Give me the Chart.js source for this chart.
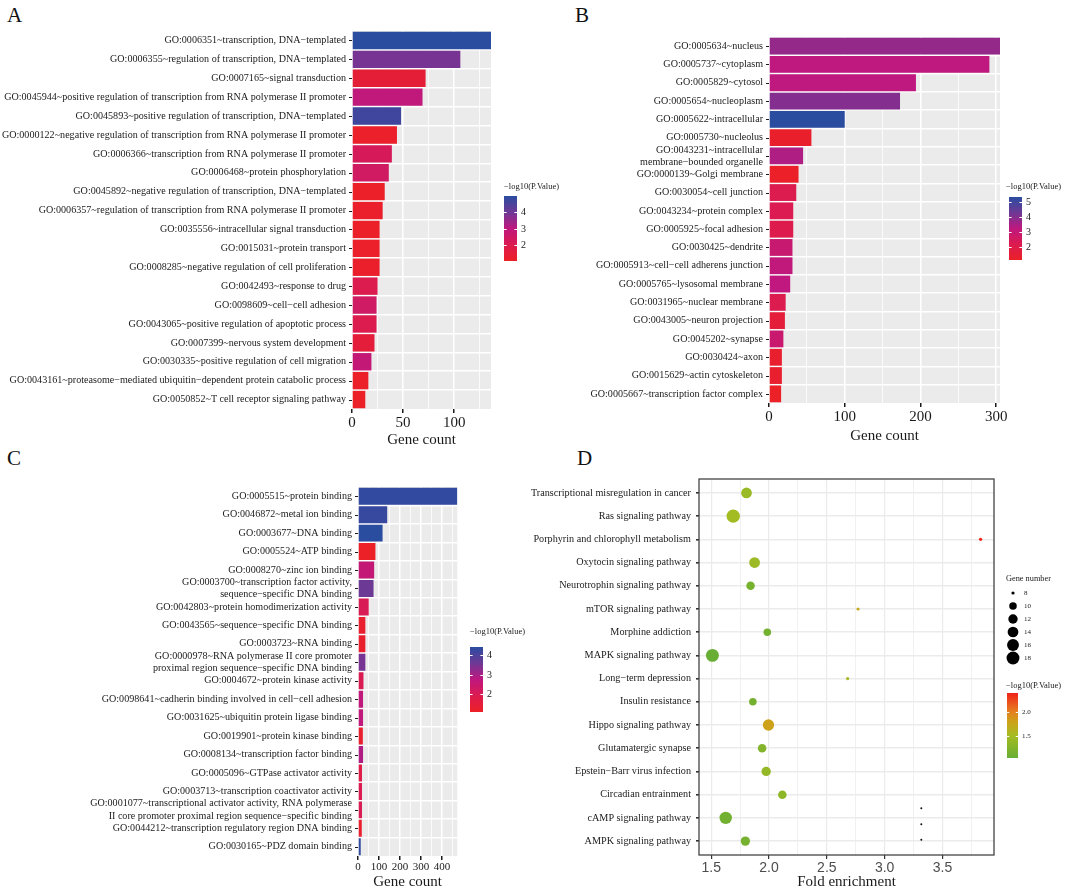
<!DOCTYPE html>
<html lang="en">
<head>
<meta charset="UTF-8">
<title>GO and KEGG enrichment</title>
<script src="https://cdn.jsdelivr.net/npm/chart.js"></script>
<style>
  body { margin: 0; background: #fff; width: 1065px; height: 892px; position: relative; overflow: hidden; font-family: "Liberation Serif", serif; }
  canvas { position: absolute; }
  .tag { position: absolute; font-size: 21px; line-height: 1; color: #111; }
</style>
</head>
<body>
<div class="tag" style="left:7px;top:5px">A</div>
<div class="tag" style="left:575px;top:5px">B</div>
<div class="tag" style="left:7px;top:448px">C</div>
<div class="tag" style="left:577px;top:448px">D</div>

<canvas id="chartA" width="575" height="452" style="left:0;top:0"></canvas>
<canvas id="chartB" width="545" height="452" style="left:520px;top:0"></canvas>
<canvas id="chartC" width="545" height="442" style="left:0;top:450px"></canvas>
<canvas id="chartD" width="565" height="442" style="left:500px;top:450px"></canvas>

<script>
// ---- data ----
const labelsA = [
  'GO:0006351~transcription, DNA\u2212templated',
  'GO:0006355~regulation of transcription, DNA\u2212templated',
  'GO:0007165~signal transduction',
  'GO:0045944~positive regulation of transcription from RNA polymerase II promoter',
  'GO:0045893~positive regulation of transcription, DNA\u2212templated',
  'GO:0000122~negative regulation of transcription from RNA polymerase II promoter',
  'GO:0006366~transcription from RNA polymerase II promoter',
  'GO:0006468~protein phosphorylation',
  'GO:0045892~negative regulation of transcription, DNA\u2212templated',
  'GO:0006357~regulation of transcription from RNA polymerase II promoter',
  'GO:0035556~intracellular signal transduction',
  'GO:0015031~protein transport',
  'GO:0008285~negative regulation of cell proliferation',
  'GO:0042493~response to drug',
  'GO:0098609~cell\u2212cell adhesion',
  'GO:0043065~positive regulation of apoptotic process',
  'GO:0007399~nervous system development',
  'GO:0030335~positive regulation of cell migration',
  'GO:0043161~proteasome\u2212mediated ubiquitin\u2212dependent protein catabolic process',
  'GO:0050852~T cell receptor signaling pathway'
];
const countsA = [136, 106, 72, 69, 48, 44, 39, 36, 32, 30, 27, 27, 27, 25, 24, 24, 22, 19, 16, 13];
const logpA = [4.95, 3.86, 1.45, 2.92, 4.64, 1.13, 2.22, 2.42, 1.1, 1.15, 1.1, 1.12, 1.15, 2.03, 2.45, 2.0, 1.52, 2.84, 1.1, 1.05];

const labelsB = [
  'GO:0005634~nucleus',
  'GO:0005737~cytoplasm',
  'GO:0005829~cytosol',
  'GO:0005654~nucleoplasm',
  'GO:0005622~intracellular',
  'GO:0005730~nucleolus',
  ['GO:0043231~intracellular', 'membrane\u2212bounded organelle'],
  'GO:0000139~Golgi membrane',
  'GO:0030054~cell junction',
  'GO:0043234~protein complex',
  'GO:0005925~focal adhesion',
  'GO:0030425~dendrite',
  'GO:0005913~cell\u2212cell adherens junction',
  'GO:0005765~lysosomal membrane',
  'GO:0031965~nuclear membrane',
  'GO:0043005~neuron projection',
  'GO:0045202~synapse',
  'GO:0030424~axon',
  'GO:0015629~actin cytoskeleton',
  'GO:0005667~transcription factor complex'
];
const countsB = [305, 291, 194, 173, 100, 56, 45, 39, 36, 32, 32, 31, 31, 28, 22, 21, 19, 17, 17, 16];
const logpB = [3.78, 3.22, 3.22, 4.0, 5.35, 1.23, 3.44, 1.12, 2.16, 2.2, 2.08, 2.9, 3.14, 3.2, 2.16, 1.6, 2.88, 1.3, 1.3, 1.1];

const labelsC = [
  'GO:0005515~protein binding',
  'GO:0046872~metal ion binding',
  'GO:0003677~DNA binding',
  'GO:0005524~ATP binding',
  'GO:0008270~zinc ion binding',
  ['GO:0003700~transcription factor activity,', 'sequence\u2212specific DNA binding'],
  'GO:0042803~protein homodimerization activity',
  'GO:0043565~sequence\u2212specific DNA binding',
  'GO:0003723~RNA binding',
  ['GO:0000978~RNA polymerase II core promoter', 'proximal region sequence\u2212specific DNA binding'],
  'GO:0004672~protein kinase activity',
  'GO:0098641~cadherin binding involved in cell\u2212cell adhesion',
  'GO:0031625~ubiquitin protein ligase binding',
  'GO:0019901~protein kinase binding',
  'GO:0008134~transcription factor binding',
  'GO:0005096~GTPase activator activity',
  'GO:0003713~transcription coactivator activity',
  ['GO:0001077~transcriptional activator activity, RNA polymerase', 'II core promoter proximal region sequence\u2212specific binding'],
  'GO:0044212~transcription regulatory region DNA binding',
  'GO:0030165~PDZ domain binding'
];
const countsC = [473, 139, 117, 83, 77, 74, 51, 35, 35, 35, 26, 24, 24, 23, 24, 19, 19, 19, 18, 13];
const logpC = [4.3, 4.25, 4.4, 1.1, 2.62, 3.6, 2.02, 1.27, 1.25, 3.48, 1.98, 2.68, 2.68, 1.25, 2.9, 1.76, 1.95, 2.0, 1.25, 4.32];

const labelsD = [
  'Transcriptional misregulation in cancer',
  'Ras signaling pathway',
  'Porphyrin and chlorophyll metabolism',
  'Oxytocin signaling pathway',
  'Neurotrophin signaling pathway',
  'mTOR signaling pathway',
  'Morphine addiction',
  'MAPK signaling pathway',
  'Long\u2212term depression',
  'Insulin resistance',
  'Hippo signaling pathway',
  'Glutamatergic synapse',
  'Epstein\u2212Barr virus infection',
  'Circadian entrainment',
  'cAMP signaling pathway',
  'AMPK signaling pathway'
];
const foldD = [1.805, 1.69, 3.83, 1.875, 1.84, 2.77, 1.985, 1.51, 2.68, 1.86, 1.995, 1.94, 1.975, 2.115, 1.625, 1.795];
const geneD = [14, 19, 8, 14, 11, 8, 10, 18, 8, 10, 15, 11, 12, 11, 17, 12];
const logpD = [1.42, 1.49, 2.41, 1.43, 1.15, 1.72, 1.12, 1.03, 1.53, 1.13, 1.8, 1.24, 1.38, 1.33, 1.1, 1.14];
// three stray black specks inside panel D
const speckX = [3.317, 3.317, 3.317];
const speckY = [13.59, 14.28, 14.94];
const sizeBreaks = [8, 10, 12, 14, 16, 18];

// ---- helpers ----
const SERIF = '"Liberation Serif", "Times New Roman", serif';
const SANS = '"Liberation Sans", Arial, sans-serif';
const INK = '#1a1a1a';
const CLEAR = 'rgba(0,0,0,0)';

const redBlue = [[0, '#EC2027'], [0.25, '#DC1B4F'], [0.5, '#BF187F'], [0.75, '#6E3895'], [1, '#2A4DA0']];
const greenRed = [[0, '#68AE34'], [0.34, '#A4BC22'], [0.55, '#CCA41A'], [0.72, '#E67E1E'], [1, '#F0221A']];

function hex(h) { const n = parseInt(h.slice(1), 16); return [(n >> 16) & 255, (n >> 8) & 255, n & 255]; }
function ramp(stops, t) {
  t = Math.max(0, Math.min(1, t));
  let i = 0;
  while (i < stops.length - 2 && t > stops[i + 1][0]) i++;
  const [t0, c0] = stops[i], [t1, c1] = stops[i + 1];
  const f = (t - t0) / (t1 - t0), a = hex(c0), b = hex(c1);
  return 'rgb(' + a.map((v, k) => Math.round(v + (b[k] - v) * f)).join(',') + ')';
}
function colourScale(stops, values) {
  const lo = Math.min(...values), hi = Math.max(...values);
  const f = v => ramp(stops, (v - lo) / (hi - lo));
  f.domain = [lo, hi];
  return f;
}

function drawColorbar(ctx, L, col, step, fmt) {
  const [lo, hi] = col.domain, span = L.y1 - L.y0;
  ctx.save();
  ctx.fillStyle = INK;
  ctx.font = L.titleSize + 'px ' + SERIF;
  ctx.textBaseline = 'middle';
  ctx.textAlign = 'left';
  ctx.fillText('\u2212log10(P.Value)', L.tx, L.ty);
  for (let i = 0; i < span; i++) {
    ctx.fillStyle = col(hi - (i + 0.5) / span * (hi - lo));
    ctx.fillRect(L.x, L.y0 + i, L.w, 1);
  }
  ctx.font = L.labelSize + 'px ' + SERIF;
  for (let b = Math.ceil(lo / step) * step; b <= hi; b += step) {
    const y = Math.round(L.y1 - (b - lo) / (hi - lo) * span) + 0.5;
    ctx.strokeStyle = '#fff';
    ctx.lineWidth = 1;
    ctx.beginPath();
    ctx.moveTo(L.x, y); ctx.lineTo(L.x + L.w / 5, y);
    ctx.moveTo(L.x + L.w * 4 / 5, y); ctx.lineTo(L.x + L.w, y);
    ctx.stroke();
    ctx.fillStyle = INK;
    ctx.fillText(fmt(b), L.x + L.w + 4, y);
  }
  ctx.restore();
}

function barPanel(id, labels, counts, logp, opt) {
  const col = colourScale(redBlue, logp);
  const xmax = Math.max(...counts);
  const isMajor = v => v % opt.major === 0;
  const panel = {
    id: 'panel' + id,
    beforeDraw(chart) {
      const a = chart.chartArea, c = chart.ctx;
      c.save();
      c.fillStyle = '#EBEBEB';
      c.fillRect(a.left, a.top, a.right - a.left, a.bottom - a.top);
      c.restore();
    },
    afterDraw(chart) {
      const a = chart.chartArea, c = chart.ctx, ys = chart.scales.y;
      c.save();
      c.strokeStyle = INK;
      c.lineWidth = 1;
      c.beginPath();
      labels.forEach((_, i) => {
        const y = Math.round(ys.getPixelForValue(i)) + 0.5;
        c.moveTo(a.left - 3, y); c.lineTo(a.left, y);
      });
      c.stroke();
      c.restore();
      drawColorbar(c, opt.legend, col, 1, v => String(v));
    }
  };
  new Chart(document.getElementById(id), {
    type: 'bar',
    data: {
      labels: labels,
      datasets: [{ data: counts, backgroundColor: logp.map(col), barPercentage: 0.92, categoryPercentage: 1 }]
    },
    options: {
      indexAxis: 'y',
      responsive: false,
      animation: false,
      events: [],
      layout: { padding: { top: opt.top, right: opt.right, left: 0, bottom: 0 } },
      plugins: { legend: { display: false }, tooltip: { enabled: false } },
      scales: {
        x: {
          min: 0, max: xmax,
          afterBuildTicks(s) { const t = []; for (let v = 0; v <= xmax; v += opt.minor) t.push({ value: v }); s.ticks = t; },
          afterFit(s) { s.height = opt.axisH; },
          ticks: { callback: v => isMajor(v) ? v : '', font: { family: SERIF, size: opt.tickSize }, color: INK, padding: 1, maxRotation: 0, autoSkip: false },
          grid: {
            color: '#fff',
            lineWidth: c => c.tick && isMajor(c.tick.value) ? 1.5 : 0.8,
            tickColor: c => c.tick && isMajor(c.tick.value) ? INK : CLEAR,
            tickLength: 4
          },
          border: { display: false },
          title: { display: true, text: 'Gene count', color: INK, font: { family: SERIF, size: 15 }, padding: { top: 0, bottom: opt.titlePad } }
        },
        y: {
          afterFit(s) { s.width = opt.left; },
          ticks: { font: { family: SERIF, size: 10.1, lineHeight: 1.2 }, color: INK, padding: 6, autoSkip: false },
          grid: { color: c => (c.index === 0 || c.index === undefined) ? CLEAR : '#fff', lineWidth: 1.5, drawTicks: false },
          border: { display: false }
        }
      }
    },
    plugins: [panel]
  });
}

barPanel('chartA', labelsA, countsA, logpA, {
  left: 352, top: 31, right: 84, axisH: 43, major: 50, minor: 25, tickSize: 15, titlePad: 3,
  legend: { tx: 504, ty: 187, titleSize: 8.5, x: 504, w: 13, y0: 196, y1: 261, labelSize: 10 }
});
barPanel('chartB', labelsB, countsB, logpB, {
  left: 249, top: 37, right: 65, axisH: 49, major: 100, minor: 50, tickSize: 15, titlePad: 7,
  legend: { tx: 486, ty: 187, titleSize: 8.5, x: 489, w: 13, y0: 197, y1: 260, labelSize: 10 }
});
barPanel('chartC', labelsC, countsC, logpC, {
  left: 358, top: 37, right: 87.7, axisH: 36, major: 100, minor: 50, tickSize: 11, titlePad: 1,
  legend: { tx: 470, ty: 182, titleSize: 8.5, x: 470, w: 13, y0: 197, y1: 262, labelSize: 10 }
});

// ---- panel D: bubble plot ----
const colD = colourScale(greenRed, logpD);
const gMin = Math.min(...geneD), gMax = Math.max(...geneD);
const sizeD = g => 1.6 + 5.1 * Math.sqrt(Math.max(0, (g - gMin) / (gMax - gMin)));
const fMin = Math.min(...foldD), fMax = Math.max(...foldD);
const xPad = (fMax - fMin) * 0.05;
const onHalf = v => Math.abs(v * 2 - Math.round(v * 2)) < 1e-6;

const panelD = {
  id: 'panelD',
  afterDraw(chart) {
    const a = chart.chartArea, c = chart.ctx;
    c.save();
    c.strokeStyle = '#444';
    c.lineWidth = 1.3;
    c.strokeRect(a.left, a.top, a.right - a.left, a.bottom - a.top);
    // size legend
    c.fillStyle = INK;
    c.textBaseline = 'middle';
    c.font = '8.3px ' + SERIF;
    c.fillText('Gene number', 506, 129);
    c.font = '7px ' + SERIF;
    sizeBreaks.forEach((g, i) => {
      const y = 143 + i * 13;
      c.fillStyle = '#000';
      c.beginPath(); c.arc(513, y, sizeD(g), 0, Math.PI * 2); c.fill();
      c.fillStyle = INK;
      c.fillText(String(g), 524, y);
    });
    c.restore();
    drawColorbar(c, { tx: 506, ty: 236, titleSize: 8.5, x: 507, w: 11, y0: 243, y1: 308, labelSize: 7 }, colD, 0.5, v => v.toFixed(1));
  }
};

new Chart(document.getElementById('chartD'), {
  type: 'scatter',
  data: {
    datasets: [
      {
        data: foldD.map((x, i) => ({ x: x, y: i })),
        pointRadius: c => sizeD(geneD[c.dataIndex]),
        pointBackgroundColor: c => colD(logpD[c.dataIndex]),
        pointBorderWidth: 0
      },
      {
        data: speckX.map((x, i) => ({ x: x, y: speckY[i] })),
        pointRadius: 1,
        pointBackgroundColor: '#111',
        pointBorderWidth: 0
      }
    ]
  },
  options: {
    responsive: false,
    animation: false,
    events: [],
    layout: { padding: { top: 29, right: 71, left: 0, bottom: 0 } },
    plugins: { legend: { display: false }, tooltip: { enabled: false } },
    scales: {
      x: {
        type: 'linear',
        min: fMin - xPad, max: fMax + xPad,
        afterBuildTicks(s) {
          const t = [];
          for (let v = Math.ceil(s.min * 4) / 4; v <= s.max; v += 0.25) t.push({ value: Math.round(v * 100) / 100 });
          s.ticks = t;
        },
        afterFit(s) { s.height = 37; },
        ticks: { callback: v => onHalf(v) ? v.toFixed(1) : '', font: { family: SANS, size: 14 }, color: '#4D4D4D', padding: 1, maxRotation: 0, autoSkip: false },
        grid: {
          color: '#EBEBEB',
          lineWidth: c => c.tick && onHalf(c.tick.value) ? 1.2 : 0.7,
          tickColor: c => c.tick && onHalf(c.tick.value) ? '#333' : CLEAR,
          tickLength: 4
        },
        border: { display: false },
        title: { display: true, text: 'Fold enrichment', color: INK, font: { family: SERIF, size: 15 }, padding: { top: 0, bottom: 1 } }
      },
      y: {
        type: 'linear',
        reverse: true,
        min: -0.6, max: labelsD.length - 0.4,
        afterBuildTicks(s) { s.ticks = labelsD.map((_, i) => ({ value: i })); },
        afterFit(s) { s.width = 199; },
        ticks: { callback: v => labelsD[v], font: { family: SERIF, size: 10.2 }, color: INK, padding: 5, autoSkip: false },
        grid: { color: '#EBEBEB', lineWidth: 1.6, tickColor: '#333', tickLength: 3 },
        border: { display: false }
      }
    }
  },
  plugins: [panelD]
});
</script>
</body>
</html>
